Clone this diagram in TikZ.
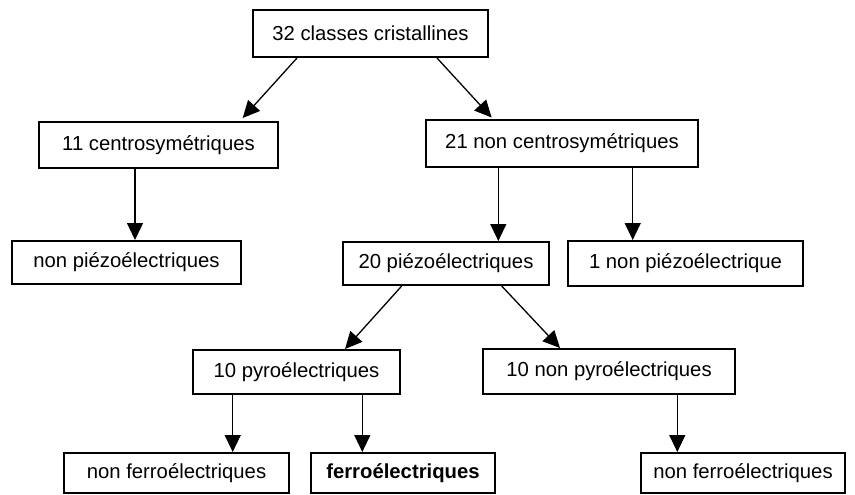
\documentclass[tikz,border=0pt]{standalone}
\usepackage{fontspec}
\setmainfont{Liberation Sans}
\usetikzlibrary{arrows.meta}

\begin{document}
\begin{tikzpicture}[x=0.5pt,y=-0.5pt,
        classbox/.style={draw, line width=1pt, inner sep=0pt, minimum height=#1*0.5pt, font=\fontsize{10.15}{12}\selectfont},
        classbox/.default=45,
        branch/.style={line width=0.65pt, -{Triangle[length=8.5pt,width=8pt]}}]
        \useasboundingbox (0,0) rectangle (855,494);
        % Draw the class boxes
        \node[classbox=47, minimum width=117.5pt] (top) at (370.5,33.5) {32 classes cristallines};
        \node[classbox=46, minimum width=119.5pt] (centro) at (158.5,145) {11 centrosymétriques};
        \node[classbox=47, minimum width=136pt] (noncentro) at (562,143.5) {21 non centrosymétriques};
        \node[classbox=43, minimum width=114.5pt] (nonpiezo) at (126.5,262.5) {non piézoélectriques};
        \node[classbox=43, minimum width=103pt] (piezo) at (446,263.5) {20 piézoélectriques};
        \node[classbox=45, minimum width=117.5pt] (unpiezo) at (685.5,263.5) {1 non piézoélectrique};
        \node[classbox=44, minimum width=103.5pt] (pyro) at (296.5,372) {10 pyroélectriques};
        \node[classbox=45, minimum width=126pt] (nonpyro) at (609,371.5) {10 non pyroélectriques};
        \node[classbox=40, minimum width=112.5pt] (nonferroA) at (176.5,473) {non ferroélectriques};
        \node[classbox=40, minimum width=92pt] (ferro) at (403,473) {\bfseries ferroélectriques};
        \node[classbox=40, minimum width=102pt] (nonferroB) at (743,473) {non ferroélectriques};
        % Slanted arrows
        \draw[branch, shorten >=2pt] ([xshift=-36.75pt]top.south) -- ([xshift=40.75pt]centro.north);
        \draw[branch, shorten >=1pt] ([xshift=33.25pt]top.south) -- ([xshift=-34.5pt]noncentro.north);
        \draw[branch] ([xshift=-22.15pt]piezo.south) -- ([xshift=24.25pt]pyro.north);
        \draw[branch] ([xshift=27.85pt]piezo.south) -- ([xshift=-24.5pt]nonpyro.north);
        % Vertical arrows
        \foreach \from/\dx/\to in {centro/-11.75pt/nonpiezo, noncentro/-31.85pt/piezo,
                noncentro/35.35pt/unpiezo, pyro/-31.9pt/nonferroA, pyro/32.9pt/ferro,
                nonpyro/34.15pt/nonferroB}
            \draw[branch] ([xshift=\dx]\from.south) -- ([xshift=\dx]\from.south |- \to.north);
\end{tikzpicture}
\end{document}
